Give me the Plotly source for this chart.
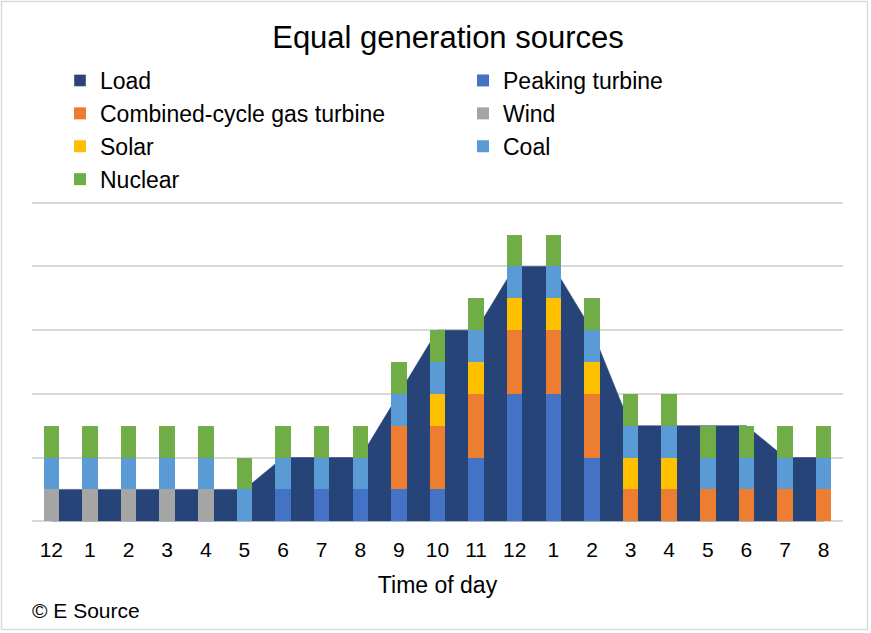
import plotly.graph_objects as go

# ---- data ----
hours = ["12", "1", "2", "3", "4", "5", "6", "7", "8", "9", "10", "11",
         "12", "1", "2", "3", "4", "5", "6", "7", "8"]
load =    [1, 1, 1, 1, 1, 1, 2, 2, 2, 4, 6, 6, 8, 8, 6, 3, 3, 3, 3, 2, 2]
peaking = [0, 0, 0, 0, 0, 0, 1, 1, 1, 1, 1, 2, 4, 4, 2, 0, 0, 0, 0, 0, 0]
ccgt =    [0, 0, 0, 0, 0, 0, 0, 0, 0, 2, 2, 2, 2, 2, 2, 1, 1, 1, 1, 1, 1]
wind =    [1, 1, 1, 1, 1, 0, 0, 0, 0, 0, 0, 0, 0, 0, 0, 0, 0, 0, 0, 0, 0]
solar =   [0, 0, 0, 0, 0, 0, 0, 0, 0, 0, 1, 1, 1, 1, 1, 1, 1, 0, 0, 0, 0]
coal =    [1, 1, 1, 1, 1, 1, 1, 1, 1, 1, 1, 1, 1, 1, 1, 1, 1, 1, 1, 1, 1]
nuclear = [1, 1, 1, 1, 1, 1, 1, 1, 1, 1, 1, 1, 1, 1, 1, 1, 1, 1, 1, 1, 1]
grid_vals = [0, 2, 4, 6, 8, 10]

x = list(range(len(hours)))

C_LOAD = "#264478"
C_PEAK = "#4472C4"
C_CCGT = "#ED7D31"
C_WIND = "#A5A5A5"
C_SOLAR = "#FFC000"
C_COAL = "#5B9BD5"
C_NUC = "#70AD47"

FONT = "Arial, Liberation Sans, sans-serif"

W, H = 871, 633
# pixel rows of value 0 and value 10 in the target
Y0_PX, Y10_PX = 521, 203
UNIT = (Y0_PX - Y10_PX) / 10.0
PAD = 0.15
YR = [-PAD, 10 + PAD]
ML, MR = 32, 28
MT = round(Y10_PX - PAD * UNIT)
MB = round(H - Y0_PX - PAD * UNIT)
PW, PH = W - ML - MR, H - MT - MB

def px_x(p):
    return (p - ML) / PW

def px_y(p):
    return (H - MB - p) / PH

fig = go.Figure()

# Load area on base axes (drawn beneath overlay bars)
fig.add_trace(go.Scatter(
    x=x, y=load, mode="lines", fill="tozeroy",
    line=dict(color=C_LOAD, width=0.5), fillcolor=C_LOAD,
    showlegend=False, name="Load", hoverinfo="y"))

# legend entry for Load (square swatch)
fig.add_trace(go.Bar(x=[None], y=[None], name="Load", marker_color=C_LOAD,
                     xaxis="x2", yaxis="y2", legend="legend"))

series = [
    ("Peaking turbine", peaking, C_PEAK, "legend2"),
    ("Combined-cycle gas turbine", ccgt, C_CCGT, "legend"),
    ("Wind", wind, C_WIND, "legend2"),
    ("Solar", solar, C_SOLAR, "legend"),
    ("Coal", coal, C_COAL, "legend2"),
    ("Nuclear", nuclear, C_NUC, "legend"),
]
for name, vals, col, lg in series:
    fig.add_trace(go.Bar(
        x=x, y=vals, name=name, width=0.4,
        marker=dict(color=col, line=dict(width=0)),
        xaxis="x2", yaxis="y2", legend=lg))

legend_common = dict(
    orientation="v", traceorder="normal", yanchor="top",
    font=dict(family=FONT, size=23, color="#000000"),
    bgcolor="rgba(0,0,0,0)", borderwidth=0, itemclick=False,
)

fig.update_layout(
    width=W, height=H,
    margin=dict(l=ML, r=MR, t=MT, b=MB),
    paper_bgcolor="white", plot_bgcolor="white",
    barmode="stack", bargap=0,
    font=dict(family=FONT, color="#000000"),
    title=dict(text="Equal generation sources",
               font=dict(family=FONT, size=31, color="#000000"),
               x=448 / W, xanchor="center", xref="container",
               y=1 - 37 / H, yanchor="middle", yref="container"),
    xaxis=dict(range=[-0.5, len(hours) - 0.5], tickmode="array",
               tickvals=x, ticktext=hours, showgrid=False, zeroline=False,
               showline=False, ticks="",
               ticklabelstandoff=int(round(14 - PAD * UNIT)),
               tickfont=dict(family=FONT, size=21, color="#000000"),
               title=dict(text="Time of day", standoff=16,
                          font=dict(family=FONT, size=23, color="#000000"))),
    yaxis=dict(range=YR, tickmode="array", tickvals=grid_vals,
               showgrid=True, gridcolor="#D9D9D9",
               gridwidth=1.5, showticklabels=False, zeroline=False,
               showline=False, ticks=""),
    xaxis2=dict(overlaying="x", range=[-0.5, len(hours) - 0.5], visible=False),
    yaxis2=dict(overlaying="y", range=YR, visible=False),
    legend=dict(x=px_x(60), y=px_y(59), xanchor="left", **legend_common),
    legend2=dict(x=px_x(463), y=px_y(59), xanchor="left", **legend_common),
    showlegend=True,
)

fig.add_annotation(text="© E Source", xref="paper", yref="paper",
                   x=px_x(30), y=px_y(610), xanchor="left", yanchor="middle",
                   showarrow=False,
                   font=dict(family=FONT, size=21, color="#000000"))

fig.add_shape(type="rect", xref="paper", yref="paper",
              x0=px_x(1.5), x1=px_x(W - 3.5), y0=px_y(H - 3.5), y1=px_y(1.5),
              line=dict(color="#D9D9D9", width=1.5), fillcolor="rgba(0,0,0,0)",
              layer="below")

fig.write_html("out.html",
               config={"displayModeBar": False},
               post_script="document.body.style.margin='0';")
